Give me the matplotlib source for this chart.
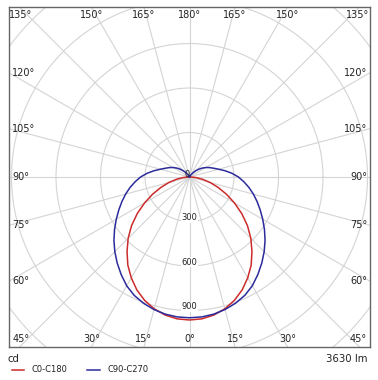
import numpy as np
import matplotlib
matplotlib.use("Agg")
import matplotlib.pyplot as plt

# Luminous intensity (cd), angle measured from nadir (0 deg = straight down)
angles = [0, 5, 10, 15, 20, 25, 30, 35, 40, 45, 50, 55, 60, 65, 70, 75, 80, 85, 90,
          95, 100, 105, 110, 115, 120, 125, 130, 135, 140, 145, 150, 155, 160, 165, 170, 175, 180]
c0_c180 = [964, 960, 945, 920, 885, 840, 785, 725, 655, 585, 510, 430, 350, 275, 205, 145, 90, 45, 10,
           0, 0, 0, 0, 0, 0, 0, 0, 0, 0, 0, 0, 0, 0, 0, 0, 0, 0]
c90_c270 = [949, 947, 939, 925, 906, 881, 847, 803, 758, 712, 665, 617, 570, 526, 485, 446, 407, 368, 330,
            287, 243, 203, 173, 150, 128, 105, 82, 60, 40, 22, 10, 3, 0, 0, 0, 0, 0]
rings = [300, 600, 900, 1200, 1500]
ring_labels = ["0", "300", "600", "900"]
flux_text = "3630 lm"
unit_text = "cd"
series_names = ["C0-C180", "C90-C270"]
series_colors = ["#cc2b2b", "#2b2b9c"]

W, H = 378, 380
px = 0.14833          # pixels per cd
X = 180.5 / px        # half width of the box in cd
Y = 170.0 / px        # half height of the box in cd

fig = plt.figure(figsize=(W / 100, H / 100), dpi=100)
ax = fig.add_axes([9 / W, (H - 347) / H, 361 / W, 340 / H])
ax.set_xlim(-X, X)
ax.set_ylim(-Y, Y)
ax.set_xticks([])
ax.set_yticks([])
for sp in ax.spines.values():
    sp.set_color("#666666")
    sp.set_linewidth(1.0)

grid_kw = dict(color="#d4d4d4", lw=0.8, zorder=1)

# circles
t = np.linspace(0, 2 * np.pi, 400)
for r in rings:
    ax.plot(r * np.cos(t), r * np.sin(t), **grid_kw)

# radial lines every 15 deg
for a in range(0, 360, 15):
    rad = np.radians(a)
    ax.plot([0, 3000 * np.sin(rad)], [0, -3000 * np.cos(rad)], **grid_kw)

# angle labels on the frame
for a in range(0, 181, 15):
    for side in ([1] if a in (0, 180) else [-1, 1]):
        rad = np.radians(a)
        dx, dy = side * np.sin(rad), -np.cos(rad)
        tx = X / abs(dx) if abs(dx) > 1e-9 else np.inf
        ty = Y / abs(dy) if abs(dy) > 1e-9 else np.inf
        if ty <= tx:
            x = ty * dx
            x = np.clip(x, -X + 12 / px, X - 12 / px)
            y = np.sign(dy) * (Y - 8 / px)
            ax.text(x, y, f"{a}°", ha="center", va="center", fontsize=7, color="#222222", zorder=4)
        else:
            y = tx * dy
            x = side * (X - 3 / px)
            ax.text(x, y, f"{a}°", ha="right" if side > 0 else "left", va="center",
                    fontsize=7, color="#222222", zorder=4)

# intensity curves, mirrored on both sides
ang = np.radians(np.array(angles, dtype=float))
for vals, col in zip([c0_c180, c90_c270], series_colors):
    v = np.array(vals, dtype=float)
    xs = np.concatenate([-(v * np.sin(ang))[::-1], v * np.sin(ang)])
    ys = np.concatenate([(-v * np.cos(ang))[::-1], -v * np.cos(ang)])
    ax.plot(xs, ys, color=col, lw=1.1, zorder=3)

# ring value labels on the nadir axis
for i, lab in enumerate(ring_labels):
    if i == 0:
        ax.text(-18, 18, lab, ha="center", va="center", fontsize=6, color="#222222", zorder=5)
    else:
        r = int(lab)
        ax.text(0, -r + 25, lab, ha="center", va="center", fontsize=6, color="#222222", zorder=5,
                bbox=dict(facecolor="white", edgecolor="none", pad=0.3))

fig.text(8 / W, 1 - 359 / H, unit_text, ha="left", va="center", fontsize=7.3, color="#222222")
fig.text(368 / W, 1 - 359 / H, flux_text, ha="right", va="center", fontsize=7.3, color="#222222")

# legend
for (x0, x1, xt), name, col in zip([(12, 24, 32), (87, 100, 107)], series_names, series_colors):
    fig.add_artist(plt.Line2D([x0 / W, x1 / W], [1 - 370 / H, 1 - 370 / H], color=col, lw=1.1))
    fig.text(xt / W, 1 - 370 / H, name, ha="left", va="center", fontsize=6, color="#222222")

fig.savefig("out.png", dpi=100)
